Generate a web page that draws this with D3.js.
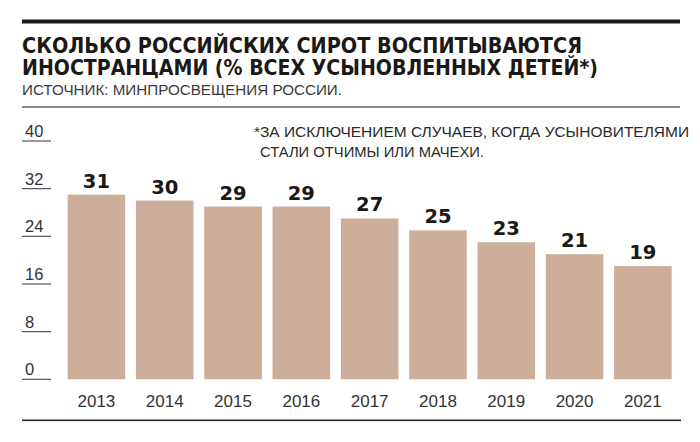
<!DOCTYPE html>
<html><head><meta charset="utf-8">
<script src="https://cdn.jsdelivr.net/npm/d3@7"></script>
<style>
html,body{margin:0;padding:0;background:#fff;}
svg{display:block;}
</style></head>
<body>
<script>
const years = ["2013","2014","2015","2016","2017","2018","2019","2020","2021"];
const values = [31,30,29,29,27,25,23,21,19];
const yTicks = [0,8,16,24,32,40];
const titleLines = ["СКОЛЬКО РОССИЙСКИХ СИРОТ ВОСПИТЫВАЮТСЯ","ИНОСТРАНЦАМИ (% ВСЕХ УСЫНОВЛЕННЫХ ДЕТЕЙ*)"];
const sourceText = "ИСТОЧНИК: МИНПРОСВЕЩЕНИЯ РОССИИ.";
const noteLines = ["*ЗА ИСКЛЮЧЕНИЕМ СЛУЧАЕВ, КОГДА УСЫНОВИТЕЛЯМИ","СТАЛИ ОТЧИМЫ ИЛИ МАЧЕХИ."];

const W=700,H=442;
const svg=d3.select("body").append("svg").attr("width",W).attr("height",H);
const light="'Liberation Sans','Helvetica',Arial,sans-serif";

// top thick rule
svg.append("rect").attr("x",22).attr("y",19.5).attr("width",658).attr("height",4).attr("fill","#1e1a17");

const tl=[{t:titleLines[0],y:52.5,w:560},{t:titleLines[1],y:74.5,w:576}];
svg.selectAll("text.title").data(tl).enter().append("text").attr("class","title")
  .attr("x",22).attr("y",d=>d.y).text(d=>d.t)
  .attr("font-family","'Liberation Sans Narrow','DejaVu Sans Condensed','Liberation Sans',sans-serif")
  .attr("font-weight","bold").attr("font-size",21.5).attr("fill","#1b1815")
  .attr("textLength",d=>d.w).attr("lengthAdjust","spacingAndGlyphs");

svg.append("text").attr("x",22).attr("y",95).text(sourceText)
  .attr("font-family",light).attr("font-size",14).attr("fill","#3a3a3a")
  .attr("textLength",320).attr("lengthAdjust","spacingAndGlyphs");

svg.append("rect").attr("x",22).attr("y",106).attr("width",658).attr("height",2).attr("fill","#8a8a8a");

// footnote
const nl=[{t:noteLines[0],x:254,y:137,w:435},{t:noteLines[1],x:260,y:157,w:224}];
svg.selectAll("text.note").data(nl).enter().append("text").attr("class","note")
  .attr("x",d=>d.x).attr("y",d=>d.y).text(d=>d.t)
  .attr("font-family",light).attr("font-size",15).attr("fill","#2a2a2a")
  .attr("textLength",d=>d.w).attr("lengthAdjust","spacingAndGlyphs");

const y=d3.scaleLinear().domain([0,40]).range([379.3,141]);
const x=d3.scaleBand().domain(years).range([62.3,677]).paddingInner(0.157).paddingOuter(0.078);

// y axis ticks
const yg=svg.append("g");
yg.selectAll("line").data(yTicks).enter().append("line")
  .attr("x1",22).attr("x2",51).attr("y1",d=>y(d)).attr("y2",d=>y(d))
  .attr("stroke","#555").attr("stroke-width",1.2);
yg.selectAll("text").data(yTicks).enter().append("text")
  .attr("x",25).attr("y",d=>y(d)-4).text(d=>d)
  .attr("font-family",light).attr("font-size",16.5).attr("fill","#333");

// bars
svg.selectAll("rect.bar").data(values).enter().append("rect").attr("class","bar")
  .attr("x",(d,i)=>x(years[i])).attr("width",x.bandwidth())
  .attr("y",d=>y(d)).attr("height",d=>y(0)-y(d)).attr("fill","#cdae9a");

// value labels
svg.selectAll("text.val").data(values).enter().append("text").attr("class","val")
  .attr("x",(d,i)=>x(years[i])+x.bandwidth()/2).attr("y",d=>y(d)-7)
  .attr("text-anchor","middle").text(d=>d)
  .attr("font-family","'DejaVu Sans',sans-serif").attr("font-weight","bold")
  .attr("font-size",19.5).attr("fill","#1b1815");

// x labels
svg.selectAll("text.xl").data(years).enter().append("text").attr("class","xl")
  .attr("x",d=>x(d)+x.bandwidth()/2).attr("y",407).attr("text-anchor","middle").text(d=>d)
  .attr("font-family",light).attr("font-size",17).attr("fill","#333");

// bottom rule
svg.append("rect").attr("x",22).attr("y",419.5).attr("width",659).attr("height",1.6).attr("fill","#2a2623");
</script>
</body></html>
